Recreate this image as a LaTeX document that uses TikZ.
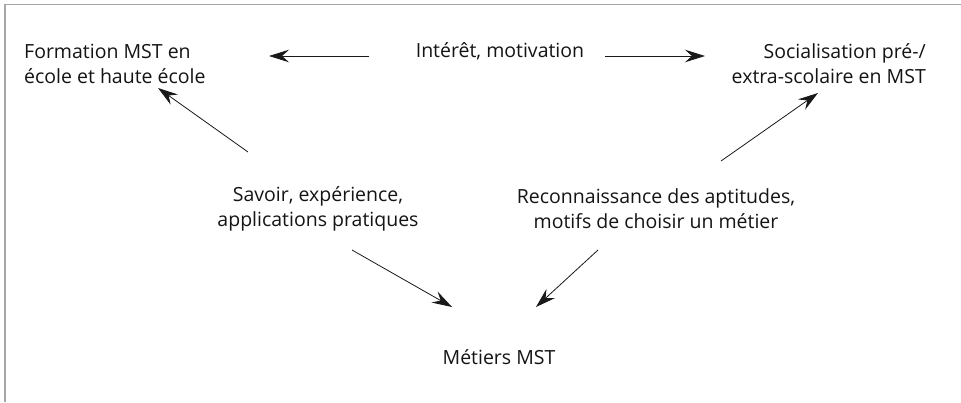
\documentclass[tikz,border=0pt]{standalone}
\usepackage{fontspec}
\setmainfont{Open Sans}
\usetikzlibrary{arrows.meta}
\begin{document}
\begin{tikzpicture}[x=1bp,y=-1bp,
  lbl/.style={font=\fontsize{19.5bp}{25bp}\selectfont, text=black!92, inner sep=0pt},
  arr/.style={draw=black!90, line width=0.8bp, -{Stealth[length=20bp,width=12.5bp,inset=7bp]}},
  frame/.style={draw=black!35, line width=1.6bp}]
\useasboundingbox (0,0) rectangle (961,402);
\draw[frame] (5,402) -- (5,4.5) -- (961,4.5);
\node[lbl, align=left, anchor=west] (form) at (24,64) {Formation MST en\\école et haute école};
\node[lbl] (inter) at (500,51) {Intérêt, motivation};
\node[lbl, align=right, anchor=east] (soc) at (926,64) {Socialisation pré-/\\extra-scolaire en MST};
\node[lbl, align=center] (sav) at (318,209) {Savoir, expérience,\\applications pratiques};
\node[lbl, align=center] (rec) at (656,209) {Reconnaissance des aptitudes,\\motifs de choisir un métier};
\node[lbl] (met) at (499,357) {Métiers MST};
\coordinate (aL1) at (369,56); \coordinate (aL2) at (269,56);
\coordinate (aR1) at (605,56); \coordinate (aR2) at (705,56);
\coordinate (dL1) at (248,152); \coordinate (dL2) at (158,88);
\coordinate (dR1) at (721,161); \coordinate (dR2) at (818,93);
\coordinate (mL1) at (352,250); \coordinate (mL2) at (452,307);
\coordinate (mR1) at (598,250); \coordinate (mR2) at (536,307);
\draw[arr] (aL1) -- (aL2);
\draw[arr] (aR1) -- (aR2);
\draw[arr] (dL1) -- (dL2);
\draw[arr] (dR1) -- (dR2);
\draw[arr] (mL1) -- (mL2);
\draw[arr] (mR1) -- (mR2);
\end{tikzpicture}
\end{document}
